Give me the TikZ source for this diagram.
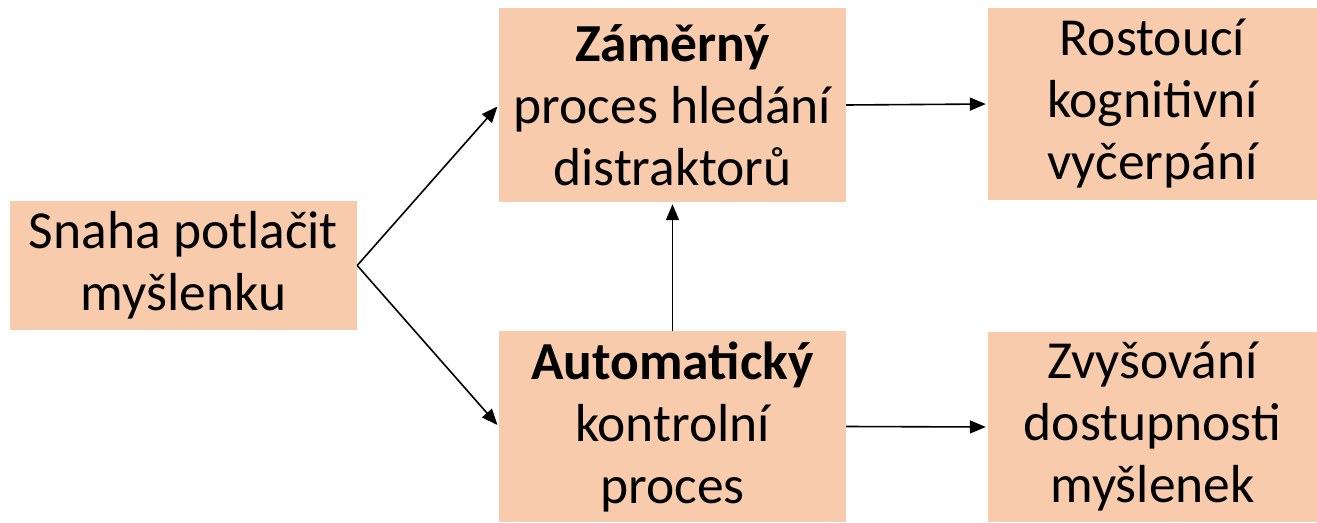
\documentclass[tikz,border=0pt]{standalone}
\usepackage{fontspec}
\setmainfont{Carlito}
\usetikzlibrary{arrows.meta}
\definecolor{peach}{HTML}{F8CBAD}
\tikzset{
  box/.style={fill=peach, draw=none, inner sep=0pt, align=center,
    font=\fontsize{53.5}{62}\selectfont},
  conn/.style={line width=1.6pt, -{Triangle[length=16pt,width=13pt]}, shorten >=2pt}
}
\begin{document}
\begin{tikzpicture}[x=1pt,y=-1pt]
\useasboundingbox (0,0) rectangle (1317,522);
\node[box, minimum width=347pt, minimum height=129pt] (snaha) at (183.5,265.5) {Snaha potlačit\\myšlenku};
\node[box, minimum width=347pt, minimum height=194pt] (zamer) at (672.5,105) {\textbf{Záměrný}\\proces hledání\\distraktorů};
\node[box, minimum width=347pt, minimum height=191pt] (auto) at (672.5,426.5) {\textbf{Automatický}\\kontrolní\\proces};
\node[box, minimum width=329pt, minimum height=192pt] (rost) at (1152.5,104) {Rostoucí\\kognitivní\\vyčerpání};
\node[box, minimum width=329pt, minimum height=190pt] (zvys) at (1152.5,427) {Zvyšování\\dostupnosti\\myšlenek};
\coordinate (split) at (snaha.east);
\draw[conn] (split) -- (zamer.west);
\draw[conn] (split) -- (auto.west);
\draw[conn] (auto.north) -- (zamer.south);
\draw[conn] (zamer.east) -- (rost.west);
\draw[conn] (auto.east) -- (zvys.west);
\end{tikzpicture}
\end{document}
